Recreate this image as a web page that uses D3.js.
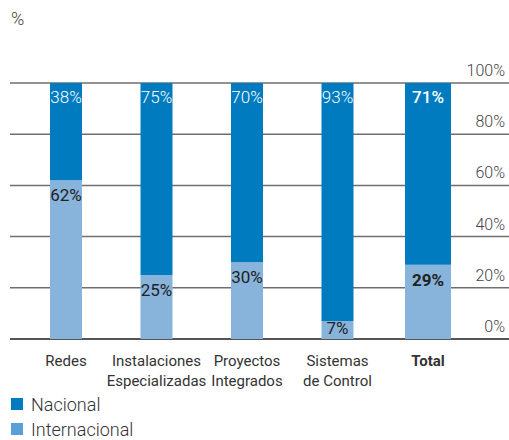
<!DOCTYPE html>
<meta charset="utf-8">
<style>
body {margin: 0; background: #fff;}
svg text {font-family: Roboto, "Liberation Sans", sans-serif;}
</style>
<html>
<body>
<script src="https://d3js.org/d3.v7.min.js"></script>
<script>
var width = 509,
    height = 440;

// data
var categories = ["Redes", "Instalaciones\nEspecializadas", "Proyectos\nIntegrados", "Sistemas\nde Control", "Total"];
var nacional = [38, 75, 70, 93, 71];
var internacional = [62, 25, 30, 7, 29];
var ticks = [0, 20, 40, 60, 80, 100];
var series = ["Nacional", "Internacional"];

var cDark = "#007bbf",
    cLight = "#88b3db",
    cLegendLight = "#5aa0d6";

var svg = d3.select("body").append("svg")
    .attr("width", width)
    .attr("height", height);

var y = d3.scaleLinear().domain([0, 100]).range([339, 83]);
var x = d3.scalePoint().domain(categories).range([66, 428]);

function barW(i) { return categories[i] == "Total" ? 46 : 32; }

// gridlines
svg.selectAll("line.grid")
    .data(ticks)
  .enter().append("line")
    .attr("class", "grid")
    .attr("x1", 10).attr("x2", width)
    .attr("y1", d => y(d)).attr("y2", d => y(d))
    .attr("stroke", d => d == 0 ? "#555" : "#6f6f6f")
    .attr("stroke-width", d => d == 0 ? 2 : 1.5);

svg.selectAll("text.tick")
    .data(ticks)
  .enter().append("text")
    .attr("class", "tick")
    .attr("x", 505)
    .attr("y", d => y(d) - 7)
    .attr("text-anchor", "end")
    .style("font-size", "16px")
    .style("font-weight", 300)
    .attr("fill", "#444")
    .text(d => d + "%");

svg.append("text")
    .attr("x", 11).attr("y", 25)
    .style("font-size", "18px")
    .style("font-weight", 300)
    .attr("fill", "#444")
    .text("%");

// bars: internacional at bottom, nacional on top
var g = svg.selectAll("g.bar")
    .data(categories)
  .enter().append("g")
    .attr("class", "bar");

g.append("rect")
    .attr("x", (d, i) => x(d) - barW(i) / 2)
    .attr("width", (d, i) => barW(i))
    .attr("y", (d, i) => y(internacional[i]))
    .attr("height", (d, i) => y(0) - y(internacional[i]))
    .attr("fill", cLight);

g.append("rect")
    .attr("x", (d, i) => x(d) - barW(i) / 2)
    .attr("width", (d, i) => barW(i))
    .attr("y", (d, i) => y(100))
    .attr("height", (d, i) => y(internacional[i]) - y(100))
    .attr("fill", cDark);

g.append("text")
    .attr("x", d => x(d))
    .attr("y", y(100) + 20)
    .attr("text-anchor", "middle")
    .attr("fill", "#fff")
    .style("font-size", "17px")
    .style("font-weight", (d, i) => categories[i] == "Total" ? 500 : 300)
    .text((d, i) => nacional[i] + "%");

g.append("text")
    .attr("x", d => x(d))
    .attr("y", (d, i) => Math.min(y(internacional[i]) + 21, 334))
    .attr("text-anchor", "middle")
    .attr("fill", "#222")
    .style("font-size", "17px")
    .style("font-weight", (d, i) => categories[i] == "Total" ? 700 : 400)
    .text((d, i) => internacional[i] + "%");

// category labels
var lab = g.append("text")
    .attr("text-anchor", "middle")
    .attr("fill", "#333")
    .style("font-size", "15px")
    .style("font-weight", (d, i) => categories[i] == "Total" ? 700 : 400);

lab.selectAll("tspan")
    .data(d => d.split("\n").map(t => ({t: t, c: d})))
  .enter().append("tspan")
    .attr("x", d => x(d.c))
    .attr("y", (d, j) => 366 + j * 19.5)
    .text(d => d.t);

// legend
var leg = svg.selectAll("g.legend")
    .data(series)
  .enter().append("g")
    .attr("class", "legend")
    .attr("transform", (d, i) => "translate(11," + (398 + i * 25) + ")");

leg.append("rect")
    .attr("width", 12).attr("height", 12)
    .attr("fill", (d, i) => i == 0 ? cDark : cLegendLight);

leg.append("text")
    .attr("x", 20).attr("y", 13)
    .attr("fill", "#333")
    .style("font-size", "18px")
    .style("font-weight", 300)
    .text(d => d);
</script>
</body>
</html>
